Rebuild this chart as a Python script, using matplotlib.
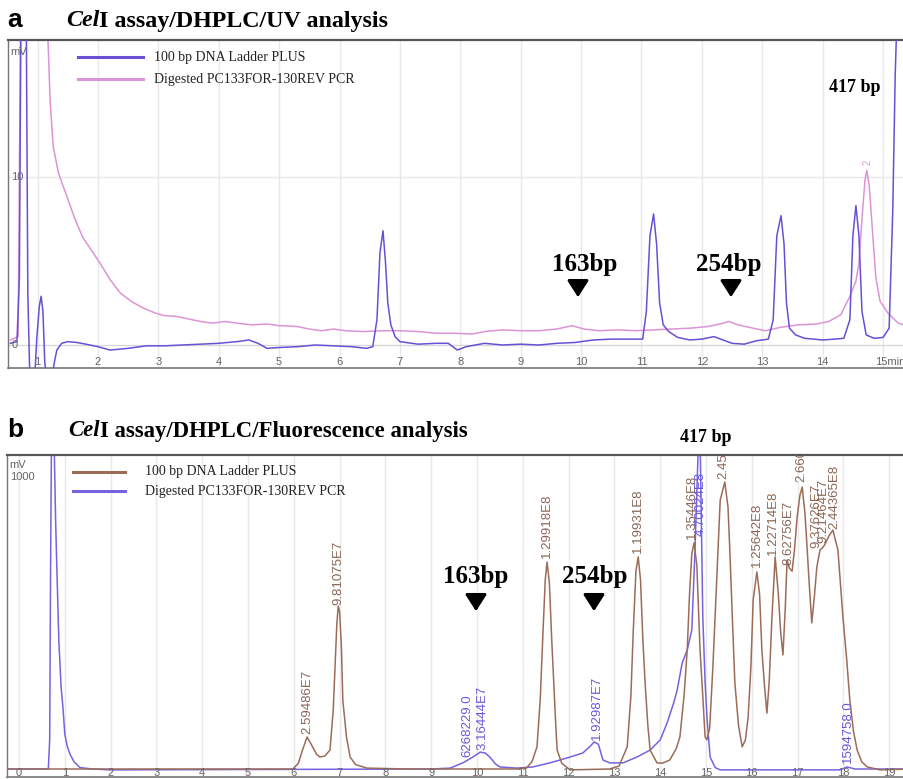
import matplotlib
matplotlib.use('Agg')
import matplotlib.pyplot as plt
from matplotlib.patches import FancyArrowPatch
from matplotlib.lines import Line2D
from matplotlib import font_manager

# ---------------- data ----------------
# Panel a: UV trace, time (min) and signal (mV)
a_ladder_t = [0.55, 0.66, 0.70, 0.73, 0.77, 0.81, 0.84, 0.87, 0.92, 0.96, 0.99, 1.03, 1.06, 1.09,
              1.12, 1.15, 1.24, 1.27, 1.32, 1.40, 1.5, 1.65, 1.8, 2.0, 2.2, 2.5, 2.8, 3.1, 3.4, 3.7,
              4.0, 4.3, 4.5, 4.65, 4.8, 5.0, 5.3, 5.6, 5.9, 6.2, 6.45, 6.55, 6.62, 6.67, 6.72, 6.76,
              6.80, 6.85, 6.92, 7.0, 7.3, 7.6, 7.8, 7.95, 8.1, 8.4, 8.7, 9.0, 9.3, 9.6, 9.9, 10.2,
              10.5, 10.8, 11.02, 11.08, 11.14, 11.2, 11.25, 11.30, 11.36, 11.45, 11.6, 11.8, 12.0,
              12.2, 12.35, 12.5, 12.7, 12.9, 13.1, 13.18, 13.24, 13.31, 13.36, 13.40, 13.45, 13.55,
              13.7, 14.0, 14.2, 14.35, 14.45, 14.5, 14.55, 14.6, 14.65, 14.72, 14.85, 15.0, 15.1,
              15.16, 15.2, 15.25, 15.3, 15.4, 15.5]
a_ladder_mv = [0.1, 0.2, 4, 22, 30, 22, 3, -1.5, -2, -1.5, 0.5, 2.3, 2.9, 2.0,
               -1.0, -2, -2, -1.2, -0.3, 0.1, 0.2, 0.15, 0.05, -0.1, -0.3, -0.2, -0.05, -0.05, 0.0, 0.05,
               0.1, 0.2, 0.3, 0.1, -0.2, -0.15, -0.1, 0.0, -0.05, -0.1, -0.2, -0.1, 1.5, 5.5, 6.8, 5.0,
               2.5, 1.2, 0.5, 0.2, 0.05, 0.1, 0.1, -0.3, -0.1, 0.1, 0.0, 0.05, 0.0, 0.1, 0.15, 0.3,
               0.35, 0.35, 0.35, 2.0, 6.5, 7.8, 6.0, 2.5,
               1.2, 0.8, 0.45, 0.3, 0.35,
               0.5, 0.3, 0.1, 0.05, 0.25, 0.35, 1.5, 6.5, 7.7, 6.0, 2.5, 1.0, 0.6,
               0.4, 0.3, 0.35, 0.4, 1.5, 6.5, 8.3, 6.5, 2.0, 0.6, 0.4, 0.45, 1.0,
               8, 16, 22, 25, 22, 20]

a_sample_t = [0.55, 0.68, 0.72, 0.78, 0.85, 0.95, 1.05, 1.12, 1.17, 1.21, 1.26, 1.35, 1.49, 1.62,
              1.75, 1.9, 2.03, 2.2, 2.37, 2.55, 2.75, 2.95, 3.1, 3.3, 3.5, 3.7, 3.9, 4.1, 4.3, 4.55,
              4.8, 5.0, 5.3, 5.5, 5.7, 5.9, 6.1, 6.4, 6.7, 7.0, 7.3, 7.6, 7.9, 8.2, 8.4, 8.7, 9.0,
              9.3, 9.6, 9.85, 10.05, 10.3, 10.6, 10.9, 11.2, 11.5, 11.8, 12.1, 12.3, 12.45, 12.6,
              12.85, 13.05, 13.3, 13.6, 13.9, 14.1, 14.3, 14.45, 14.55, 14.6, 14.65, 14.7, 14.73,
              14.77, 14.82, 14.88, 14.95, 15.08, 15.25, 15.45]
a_sample_mv = [0.3, 0.5, 20, 30, 25, 22, 20, 19.5, 18.5, 14.5, 11.8, 10.2, 8.8, 7.5,
               6.4, 5.6, 4.9, 3.9, 3.1, 2.6, 2.2, 1.9, 1.75, 1.7, 1.55, 1.4, 1.3, 1.4, 1.3, 1.2,
               1.25, 1.15, 1.1, 0.95, 0.85, 0.95, 0.85, 0.8, 0.85, 0.85, 0.8, 0.7, 0.7, 0.65, 0.8, 0.9, 0.85,
               0.85, 0.95, 1.15, 0.95, 0.85, 0.9, 0.85, 0.9, 0.95, 1.0, 1.1, 1.25, 1.4, 1.2,
               1.0, 0.85, 1.05, 1.2, 1.25, 1.4, 1.8, 2.9, 3.8, 4.9, 7.5, 9.8, 10.4,
               9.5, 7.0, 4.0, 2.6, 1.9, 1.3, 1.07]

# Panel b: fluorescence trace, time (min) and signal (mV)
b_ladder_t = [-0.3, 5.0, 5.98, 6.1, 6.2, 6.29, 6.38, 6.5, 6.57, 6.68, 6.79, 6.86, 6.90, 6.94, 6.97,
              7.0, 7.04, 7.07, 7.15, 7.23, 7.35, 7.6, 8.5, 10.9, 11.09, 11.2, 11.31, 11.38, 11.44,
              11.49, 11.53, 11.58, 11.63, 11.66, 11.72, 11.75, 11.85, 12.03, 12.9, 13.1, 13.28,
              13.36, 13.41, 13.47, 13.52, 13.57, 13.62, 13.67, 13.73, 13.78, 13.93, 14.05, 14.21,
              14.35, 14.43, 14.52, 14.59, 14.64, 14.69, 14.74, 14.8, 14.87, 14.93, 14.98, 15.02,
              15.08, 15.15, 15.22, 15.31, 15.41, 15.48, 15.52, 15.58, 15.63, 15.71, 15.79, 15.86,
              15.92, 15.98, 16.03, 16.11, 16.17, 16.22, 16.28, 16.33, 16.38, 16.44, 16.51, 16.58,
              16.63, 16.68, 16.73, 16.77, 16.82, 16.88, 16.93, 16.99, 17.05, 17.10, 17.16, 17.21,
              17.26, 17.31, 17.37, 17.42, 17.49, 17.54, 17.59, 17.68, 17.77, 17.88, 17.99, 18.07,
              18.14, 18.22, 18.30, 18.4, 18.52, 18.8, 19.5]
b_ladder_mv = [0, 0, 0, 20, 70, 110, 85, 50, 41, 45, 65, 200, 350, 500, 560,
               540, 420, 237, 110, 41, 15, 3, 0, 0, 5, 25, 76, 237, 467,
               650, 711, 640, 450, 350, 150, 65, 20, -3, 0, 10, 76,
               250, 467, 680, 729, 650, 450, 296, 150, 65, 21, 20, 31,
               70, 110, 250, 409, 600, 740, 777, 700, 409, 250, 110, 100,
               140, 350, 600, 924, 986, 900, 753, 500, 296, 150, 76, 100,
               179, 350, 581, 677, 600, 409, 280, 192, 300, 522, 729, 600,
               470, 392, 550, 718, 690, 680, 750, 866, 940, 969, 880, 753,
               620, 502, 600, 694, 753, 760, 770, 800, 821, 753, 522, 380,
               237, 130, 65, 25, 7, -3, 0]

b_sample_t = [-0.3, 0.64, 0.67, 0.69, 0.71, 0.74, 0.77, 0.80, 0.83, 0.87, 0.92, 0.96, 1.0, 1.05,
              1.11, 1.2, 1.33, 1.6, 2.0, 9.0, 9.41, 9.69, 9.91, 10.07, 10.18, 10.28, 10.4, 10.5,
              10.87, 11.22, 11.59, 11.97, 12.31, 12.45, 12.56, 12.65, 12.75, 12.9, 13.19, 13.49,
              13.78, 14.0, 14.15, 14.3, 14.37, 14.48, 14.59, 14.69, 14.76, 14.83, 14.87, 14.93,
              14.98, 15.02, 15.09, 15.2, 15.31, 17.93, 18.08, 18.25, 19.5]
b_sample_mv = [0, 0, 100, 700, 1150, 1200, 1100, 850, 670, 440, 280, 210, 120, 80,
               52, 25, 5, 0, -3, 0, 3, 21, 41, 58, 55, 41, 18, 7,
               3, 7, 21, 38, 55, 75, 93, 85, 31, 21, 21, 41,
               65, 100, 158, 230, 271, 364, 409, 478, 753, 1100, 1150, 522,
               300, 179, 41, 5, -3, -3, 7, 0, 0]

# peak labels (time, label base in mV, text)
b_ladder_labels = [(6.29, 120, '2.59486E7'), (6.97, 565, '9.81075E7'), (11.53, 725, '1.29918E8'),
                   (13.52, 742, '1.19931E8'), (14.70, 790, '1.35446E8'), (15.37, 995, '2.45286E9'),
                   (16.12, 694, '1.25642E8'), (16.47, 735, '1.22714E8'), (16.80, 700, '8.62756E7'),
                   (17.08, 985, '2.66045E9'), (17.42, 760, '9.37626E7'), (17.57, 775, '9.21464E7'),
                   (17.80, 825, '2.44365E8')]
b_sample_labels = [(9.80, 41, '6268229.0'), (10.12, 65, '3.16444E7'), (12.62, 100, '1.92987E7'),
                   (14.88, 800, '4.70024E8'), (18.10, 20, '1594758.0')]

a_ticks = list(range(1, 16))
b_ticks = list(range(0, 20))
legend_labels = ['100 bp DNA Ladder PLUS', 'Digested PC133FOR-130REV PCR']

# ---------------- styling ----------------
W, H = 904, 779
fig = plt.figure(figsize=(W / 100, H / 100), dpi=100)


def fx(x):
    return x / W


def fy(y):
    return 1 - y / H


BLUE_A = '#6a4fd6'
PINK_A = '#dc94d6'
BROWN_B = '#9c6c58'
BLUE_B = '#7563e0'
GRID = '#e9e9e9'
SERIF = 'Liberation Serif'
SANS = 'Liberation Sans'
installed = {f.name for f in font_manager.fontManager.ttflist}
NARROW = 'Liberation Sans Narrow' if 'Liberation Sans Narrow' in installed else SANS
LABEL_SIZE = 10.5 if NARROW != SANS else 9.5


def style_axes(ax):
    ax.spines['right'].set_visible(False)
    ax.spines['top'].set_color('#555555')
    ax.spines['top'].set_linewidth(1.6)
    ax.spines['left'].set_color('#777777')
    ax.spines['left'].set_linewidth(1.0)
    ax.spines['bottom'].set_color('#777777')
    ax.spines['bottom'].set_linewidth(1.2)
    ax.set_xticks([])
    ax.set_yticks([])


# ---- panel a ----
axA = fig.add_axes([fx(8), fy(368), fx(912 - 8), (368 - 40) / H])
axA.set_xlim((8 - 37.5) / 60.4 + 1, (912 - 37.5) / 60.4 + 1)
axA.set_ylim((345 - 368) / 16.8, (345 - 40) / 16.8)
style_axes(axA)
for t in a_ticks:
    axA.axvline(t, color=GRID, lw=1.0, zorder=0)
axA.axhline(0, color='#d8d8d8', lw=1.0, zorder=0)
axA.axhline(10, color=GRID, lw=1.0, zorder=0)
axA.plot(a_sample_t, a_sample_mv, color=PINK_A, lw=1.1, zorder=2)
axA.plot(a_ladder_t, a_ladder_mv, color=BLUE_A, lw=1.1, zorder=3)
xt = axA.get_xaxis_transform()
for t in a_ticks:
    if t == 15:
        axA.text(t - 0.13, 0.018, '15min', transform=xt, ha='left', va='center', fontsize=8,
                 color='#666666', family=SANS, clip_on=True)
    else:
        axA.text(t, 0.018, str(t), transform=xt, ha='center', va='center', fontsize=8,
                 color='#666666', family=SANS)
axA.text(0.002, (368 - 52) / 328, 'mV', transform=axA.transAxes, fontsize=8,
         color='#666666', family=SANS, va='center', ha='left')
axA.text(0.003, (368 - 177) / 328, '10', transform=axA.transAxes, fontsize=8,
         color='#666666', family=SANS, va='center', ha='left')
axA.text(0.004, (368 - 345) / 328, '0', transform=axA.transAxes, fontsize=8,
         color='#666666', family=SANS, va='center', ha='left')
axA.text(14.74, 10.7, '2', color=PINK_A, fontsize=7, rotation=90, ha='center', va='bottom',
         family=SANS)

# ---- panel b ----
axB = fig.add_axes([fx(7), fy(777), fx(912 - 7), (777 - 455) / H])
axB.set_xlim((7 - 19) / 45.8, (912 - 19) / 45.8)
axB.set_ylim((769 - 777) / 0.291, (769 - 455) / 0.291)
style_axes(axB)
for t in b_ticks:
    axB.axvline(t, color=GRID, lw=1.0, zorder=0)
axB.plot(b_sample_t, b_sample_mv, color=BLUE_B, lw=1.1, zorder=2)
axB.plot(b_ladder_t, b_ladder_mv, color=BROWN_B, lw=1.1, zorder=3)
xtb = axB.get_xaxis_transform()
for t in b_ticks:
    axB.text(t, 0.012, str(t), transform=xtb, ha='center', va='center', fontsize=8,
             color='#666666', family=SANS, clip_on=False)
axB.text(0.003, (777 - 465) / 322, 'mV', transform=axB.transAxes, fontsize=8,
         color='#666666', family=SANS, va='center', ha='left')
axB.text(0.003, (777 - 477) / 322, '1000', transform=axB.transAxes, fontsize=8,
         color='#666666', family=SANS, va='center', ha='left')
for t, v, s in b_ladder_labels:
    axB.text(t, v, s, rotation=90, ha='center', va='bottom', fontsize=LABEL_SIZE, color='#8a6656',
             family=NARROW, clip_on=True, zorder=4)
for t, v, s in b_sample_labels:
    axB.text(t, v, s, rotation=90, ha='center', va='bottom', fontsize=LABEL_SIZE, color='#6a5ad8',
             family=NARROW, clip_on=True, zorder=4)

# ---- legends ----
for (y, c, lab) in [(57, BLUE_A, legend_labels[0]), (79, PINK_A, legend_labels[1])]:
    fig.add_artist(Line2D([fx(78), fx(143)], [fy(y), fy(y)], color=c, lw=2.2))
    fig.text(fx(154), fy(y), lab, fontsize=10, family=SERIF, va='center', ha='left', color='#222222')
for (y, c, lab) in [(472, BROWN_B, legend_labels[0]), (491, BLUE_B, legend_labels[1])]:
    fig.add_artist(Line2D([fx(73), fx(125)], [fy(y), fy(y)], color=c, lw=2.2))
    fig.text(fx(145), fy(y), lab, fontsize=10, family=SERIF, va='center', ha='left', color='#222222')

# ---- titles ----
fig.text(fx(7), fy(20), 'a', fontsize=19, family=SANS, fontweight='bold', va='center', ha='left')
fig.text(fx(7), fy(430), 'b', fontsize=19, family=SANS, fontweight='bold', va='center', ha='left')
fig.canvas.draw()
renderer = fig.canvas.get_renderer()


def title(x, y, rest, size):
    t1 = fig.text(fx(x), fy(y), 'Cel', fontsize=size, family=SERIF, fontweight='bold',
                  fontstyle='italic', va='center', ha='left')
    bb = t1.get_window_extent(renderer=renderer)
    fig.text(bb.x1 / W, fy(y), rest, fontsize=size, family=SERIF, fontweight='bold',
             va='center', ha='left')


title(66, 21, 'I assay/DHPLC/UV analysis', 17.3)
title(68, 431, 'I assay/DHPLC/Fluorescence analysis', 16.4)


# ---- annotations ----
def bp(x, y, s, size=18):
    fig.text(fx(x), fy(y), s, fontsize=size, family=SERIF, fontweight='bold', va='center',
             ha='center')


def arrow(x, y0, y1):
    fig.add_artist(FancyArrowPatch((fx(x), fy(y0)), (fx(x), fy(y1)), transform=fig.transFigure,
                                   arrowstyle='-|>,head_length=0.5,head_width=0.32',
                                   mutation_scale=20, lw=2.2, color='black'))


bp(585, 265, '163bp')
bp(729, 265, '254bp')
arrow(578, 278, 300)
arrow(731, 278, 300)
bp(855, 88, '417 bp', 13)
bp(476, 577, '163bp')
bp(595, 577, '254bp')
arrow(476, 592, 614)
arrow(594, 592, 614)
bp(706, 437, '417 bp', 13)

fig.savefig('out.png', dpi=100)
